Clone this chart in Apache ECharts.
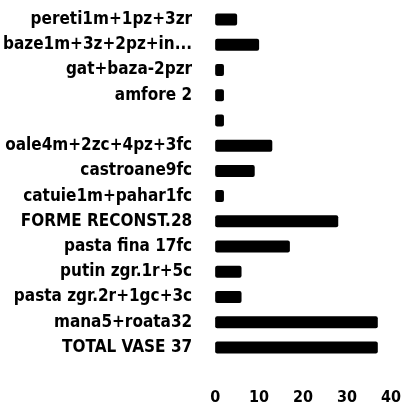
<!DOCTYPE html>
<html>
<head>
<meta charset="utf-8">
<script src="https://cdn.jsdelivr.net/npm/echarts@6/dist/echarts.min.js"></script>
<style>
  html, body { margin: 0; padding: 0; background: #fff; }
  #chart { width: 404px; height: 406px; }
</style>
</head>
<body>
<div id="chart"></div>
<script>
// categories top to bottom
const categories = [
  'pereti1m+1pz+3zr',
  'baze1m+3z+2pz+in...',
  'gat+baza-2pzr',
  'amfore 2',
  '',
  'oale4m+2zc+4pz+3fc',
  'castroane9fc',
  'catuie1m+pahar1fc',
  'FORME RECONST.28',
  'pasta fina 17fc',
  'putin zgr.1r+5c',
  'pasta zgr.2r+1gc+3c',
  'mana5+roata32',
  'TOTAL VASE 37'
];
const values = [5, 10, 2, 2, 2, 13, 9, 2, 28, 17, 6, 6, 37, 37];
const xTicks = [0, 10, 20, 30, 40];

const fontFamily = '"DejaVu Sans Condensed", "DejaVu Sans", sans-serif';

const chart = echarts.init(document.getElementById('chart'));
chart.setOption({
  animation: false,
  grid: { left: 214, right: 8, top: 7, bottom: 46 },
  xAxis: {
    type: 'value',
    min: xTicks[0],
    max: xTicks[xTicks.length - 1],
    interval: 10,
    axisLine: { show: false },
    axisTick: { show: false },
    splitLine: { show: false },
    axisLabel: {
      color: '#000',
      fontFamily: fontFamily,
      fontWeight: 'bold',
      fontSize: 16,
      margin: 30
    }
  },
  yAxis: {
    type: 'category',
    inverse: true,
    data: categories,
    axisLine: { show: false },
    axisTick: { show: false },
    axisLabel: {
      color: '#000',
      fontFamily: fontFamily,
      fontWeight: 'bold',
      fontSize: 17,
      margin: 23
    }
  },
  series: [{
    type: 'bar',
    data: values,
    barWidth: 12,
    itemStyle: { color: '#000', borderRadius: 2 }
  }]
});
</script>
</body>
</html>
